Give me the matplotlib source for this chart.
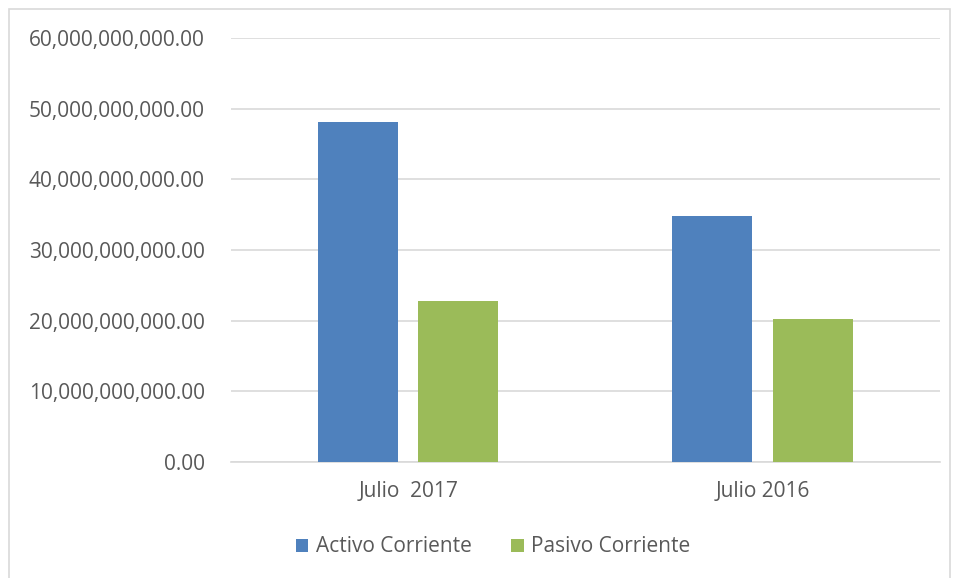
import numpy as np
import matplotlib.pyplot as plt
from matplotlib.patches import Rectangle

categorias = ['Julio  2017', 'Julio 2016']
activo = [48.05e9, 34.75e9]
pasivo = [22.8e9, 20.25e9]
yticks = np.arange(0, 60e9 + 1, 10e9)

plt.rcParams['font.family'] = ['Open Sans', 'DejaVu Sans']
gris = '#595959'

fig = plt.figure(figsize=(9.58, 5.78), dpi=100)
ax = fig.add_axes([231/958, 1 - 462/578, (940 - 231)/958, (462 - 38)/578])

x = np.arange(len(categorias))
w = 0.2257
ax.bar(x - 0.1425, activo, w, color='#4F81BD', label='Activo Corriente', zorder=3)
ax.bar(x + 0.1415, pasivo, w, color='#9BBB59', label='Pasivo Corriente', zorder=3)

ax.set_xlim(-0.5, 1.5)
ax.set_ylim(0, 60e9)
ax.set_yticks(yticks)
ax.set_yticklabels(['{:,.2f}'.format(v) for v in yticks])
ax.set_xticks(x)
ax.set_xticklabels(categorias)
ax.yaxis.grid(True, color='#D9D9D9', linewidth=1.2, zorder=0)
for s in ['top', 'right', 'left']:
    ax.spines[s].set_visible(False)
ax.spines['bottom'].set_color('#D9D9D9')
ax.spines['bottom'].set_linewidth(1.2)
ax.tick_params(axis='both', length=0, colors=gris, labelsize=15)
ax.tick_params(axis='y', pad=19)
ax.tick_params(axis='x', pad=14)

fig.legend(loc='center', bbox_to_anchor=(493/958, 1 - 547/578), ncol=2, frameon=False,
           fontsize=15, labelcolor=gris, handlelength=0.6, handleheight=0.6,
           handletextpad=0.35, columnspacing=1.9)

fig.patches.append(Rectangle((9/958, -0.05), (950 - 9)/958, 1.05 - 9/578,
                             transform=fig.transFigure, fill=False,
                             edgecolor='#D9D9D9', linewidth=1.2))

fig.savefig('out.png', dpi=100)
